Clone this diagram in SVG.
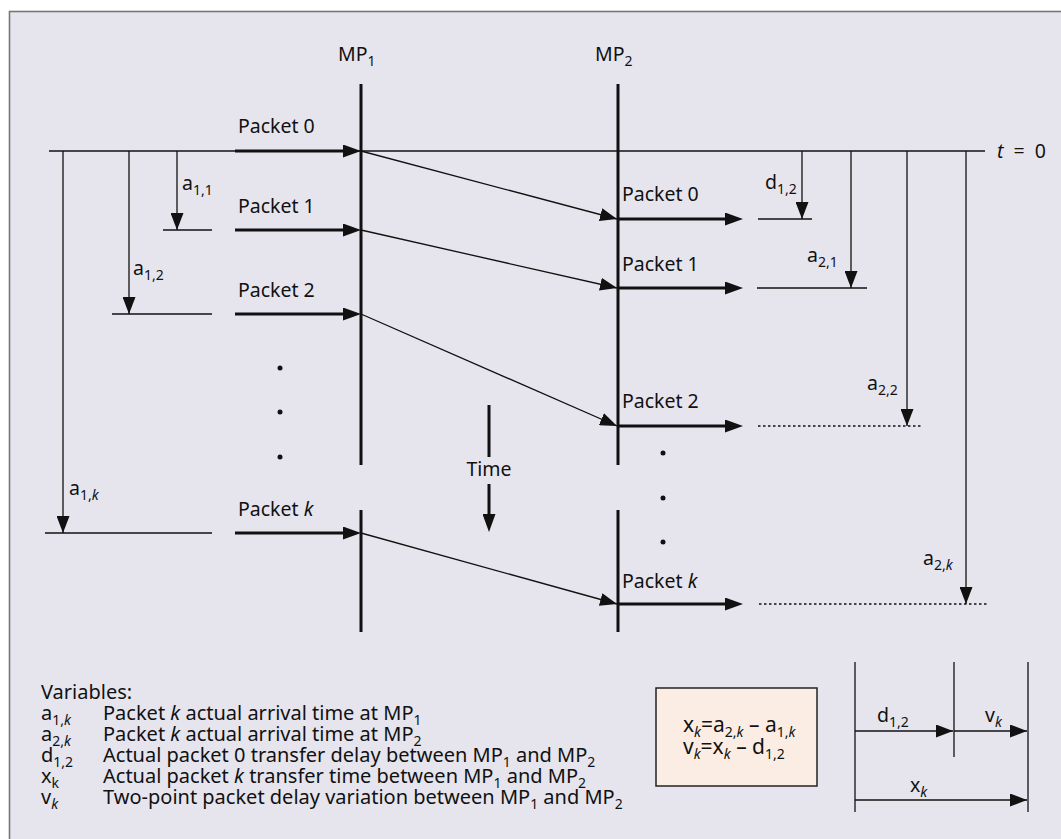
<svg xmlns="http://www.w3.org/2000/svg" width="1061" height="839" viewBox="0 0 1061 839">
<style>
.t{font-family:"Noto Sans","Liberation Sans",sans-serif;font-size:19.5px;fill:#111}
.lg{font-family:"Noto Sans","Liberation Sans",sans-serif;font-size:20px;fill:#111}
.fm{font-family:"Noto Sans","Liberation Sans",sans-serif;font-size:21px;fill:#111}
.sb{font-size:14px}
.i{font-style:italic}
.thin{stroke:#111;stroke-width:1.3;fill:none}
.thick{stroke:#111;stroke-width:3;fill:none}
.dot{stroke:#111;stroke-width:1.3;stroke-dasharray:2.5 2.5;fill:none}
</style>
<defs>
<marker id="ah" viewBox="0 0 17 13" refX="17" refY="6.5" markerWidth="17" markerHeight="13" markerUnits="userSpaceOnUse" orient="auto"><path d="M0,0 L17,6.5 L0,13 z" fill="#111"/></marker>
<marker id="ahT" viewBox="0 0 18 13" refX="10" refY="6.5" markerWidth="18" markerHeight="13" markerUnits="userSpaceOnUse" orient="auto"><path d="M0,0 L18,6.5 L0,13 z" fill="#111"/></marker>
</defs>
<rect x="0" y="0" width="1061" height="839" fill="#ffffff"/>
<rect x="9.5" y="11.5" width="1070" height="850" fill="#e6e5ee" stroke="#777" stroke-width="1.6"/>

<g id="connectors">
<line class="thin" x1="49" y1="151" x2="985" y2="151"/>
<line class="thick" x1="361" y1="84" x2="361" y2="465"/>
<line class="thick" x1="361" y1="510" x2="361" y2="632"/>
<line class="thick" x1="618" y1="84" x2="618" y2="465"/>
<line class="thick" x1="618" y1="510" x2="618" y2="632"/>
<line class="thick" x1="235" y1="151" x2="353" y2="151" marker-end="url(#ahT)"/>
<line class="thick" x1="235" y1="230" x2="353" y2="230" marker-end="url(#ahT)"/>
<line class="thick" x1="235" y1="314" x2="353" y2="314" marker-end="url(#ahT)"/>
<line class="thick" x1="235" y1="533" x2="353" y2="533" marker-end="url(#ahT)"/>
<line class="thin" x1="163" y1="230" x2="212" y2="230"/>
<line class="thin" x1="112" y1="314" x2="212" y2="314"/>
<line class="thin" x1="45" y1="533" x2="212" y2="533"/>
<line class="thin" x1="177" y1="151" x2="177" y2="230" marker-end="url(#ah)"/>
<line class="thin" x1="129" y1="151" x2="129" y2="314" marker-end="url(#ah)"/>
<line class="thin" x1="63" y1="151" x2="63" y2="533" marker-end="url(#ah)"/>
<line class="thin" x1="361" y1="151" x2="617" y2="219" marker-end="url(#ah)"/>
<line class="thin" x1="361" y1="230" x2="617" y2="288" marker-end="url(#ah)"/>
<line class="thin" x1="361" y1="314" x2="617" y2="426" marker-end="url(#ah)"/>
<line class="thin" x1="361" y1="533" x2="617" y2="604" marker-end="url(#ah)"/>
<line class="thick" x1="618" y1="219" x2="735" y2="219" marker-end="url(#ahT)"/>
<line class="thick" x1="618" y1="288" x2="735" y2="288" marker-end="url(#ahT)"/>
<line class="thick" x1="618" y1="426" x2="735" y2="426" marker-end="url(#ahT)"/>
<line class="thick" x1="618" y1="604" x2="735" y2="604" marker-end="url(#ahT)"/>
<line class="thin" x1="758" y1="219" x2="812" y2="219"/>
<line class="thin" x1="757" y1="288" x2="867" y2="288"/>
<line class="dot" x1="758" y1="426" x2="923" y2="426"/>
<line class="dot" x1="759" y1="604" x2="987" y2="604"/>
<line class="thin" x1="802" y1="151" x2="802" y2="219" marker-end="url(#ah)"/>
<line class="thin" x1="851" y1="151" x2="851" y2="288" marker-end="url(#ah)"/>
<line class="thin" x1="907" y1="151" x2="907" y2="426" marker-end="url(#ah)"/>
<line class="thin" x1="966" y1="151" x2="966" y2="604" marker-end="url(#ah)"/>
<line class="thick" x1="489" y1="405" x2="489" y2="457"/>
<line class="thick" x1="489" y1="484" x2="489" y2="524" marker-end="url(#ahT)"/>
<line class="thin" x1="855" y1="662" x2="855" y2="812"/>
<line class="thin" x1="954" y1="662" x2="954" y2="757"/>
<line class="thin" x1="1028" y1="662" x2="1028" y2="812"/>
<line class="thin" x1="855" y1="731" x2="953" y2="731" marker-end="url(#ah)"/>
<line class="thin" x1="954" y1="731" x2="1027" y2="731" marker-end="url(#ah)"/>
<line class="thin" x1="855" y1="800" x2="1027" y2="800" marker-end="url(#ah)"/>
</g>

<g id="dots" fill="#111">
<circle cx="280" cy="368" r="2.5"/><circle cx="280" cy="412" r="2.5"/><circle cx="280" cy="457" r="2.5"/>
<circle cx="663" cy="453" r="2.5"/><circle cx="663" cy="498" r="2.5"/><circle cx="663" cy="542" r="2.5"/>
</g>

<g id="mp1"><text class="t" x="338" y="61">MP<tspan class="sb" dy="5">1</tspan></text></g>
<g id="mp2"><text class="t" x="595" y="61">MP<tspan class="sb" dy="5">2</tspan></text></g>
<g id="t0"><text class="t" x="997" y="158" word-spacing="5"><tspan class="i">t</tspan> = 0</text></g>

<g id="left-packets">
<text class="t" x="238" y="133">Packet 0</text>
<text class="t" x="238" y="213">Packet 1</text>
<text class="t" x="238" y="297">Packet 2</text>
<text class="t" x="238" y="516">Packet <tspan class="i">k</tspan></text>
</g>
<g id="right-packets">
<text class="t" x="622" y="201">Packet 0</text>
<text class="t" x="622" y="271">Packet 1</text>
<text class="t" x="622" y="408">Packet 2</text>
<text class="t" x="622" y="588">Packet <tspan class="i">k</tspan></text>
</g>
<g id="arrival-labels">
<text class="t" x="182" y="190">a<tspan class="sb" dy="5">1,1</tspan></text>
<text class="t" x="133" y="275">a<tspan class="sb" dy="5">1,2</tspan></text>
<text class="t" x="69" y="495">a<tspan class="sb" dy="5">1,<tspan class="i">k</tspan></tspan></text>
<text class="t" x="765" y="189">d<tspan class="sb" dy="5">1,2</tspan></text>
<text class="t" x="807" y="262">a<tspan class="sb" dy="5">2,1</tspan></text>
<text class="t" x="867" y="390">a<tspan class="sb" dy="5">2,2</tspan></text>
<text class="t" x="923" y="565">a<tspan class="sb" dy="5">2,<tspan class="i">k</tspan></tspan></text>
</g>
<g id="time"><text class="t" x="489" y="476" text-anchor="middle">Time</text></g>

<g id="legend">
<text class="lg" x="41" y="699">Variables:</text>
<text class="lg" x="41" y="720">a<tspan class="sb" dy="5">1,<tspan class="i">k</tspan></tspan></text>
<text class="lg" x="103" y="720">Packet <tspan class="i">k</tspan> actual arrival time at MP<tspan class="sb" dy="5">1</tspan></text>
<text class="lg" x="41" y="741">a<tspan class="sb" dy="5">2,<tspan class="i">k</tspan></tspan></text>
<text class="lg" x="103" y="741">Packet <tspan class="i">k</tspan> actual arrival time at MP<tspan class="sb" dy="5">2</tspan></text>
<text class="lg" x="41" y="762">d<tspan class="sb" dy="5">1,2</tspan></text>
<text class="lg" x="103" y="762">Actual packet 0 transfer delay between MP<tspan class="sb" dy="5">1</tspan><tspan dy="-5"> and MP</tspan><tspan class="sb" dy="5">2</tspan></text>
<text class="lg" x="41" y="783">x<tspan class="sb" dy="5">k</tspan></text>
<text class="lg" x="103" y="783">Actual packet <tspan class="i">k</tspan> transfer time between MP<tspan class="sb" dy="5">1</tspan><tspan dy="-5"> and MP</tspan><tspan class="sb" dy="5">2</tspan></text>
<text class="lg" x="41" y="804">v<tspan class="sb i" dy="5">k</tspan></text>
<text class="lg" x="103" y="804">Two-point packet delay variation between MP<tspan class="sb" dy="5">1</tspan><tspan dy="-5"> and MP</tspan><tspan class="sb" dy="5">2</tspan></text>
</g>

<g id="formula">
<rect x="656" y="688" width="161" height="98" fill="#fbede4" stroke="#222" stroke-width="1.5"/>
<text class="fm" x="683" y="732">x<tspan class="sb i" dy="5">k</tspan><tspan dy="-5">=a</tspan><tspan class="sb" dy="5">2,<tspan class="i">k</tspan></tspan><tspan dy="-5"> – a</tspan><tspan class="sb" dy="5">1,<tspan class="i">k</tspan></tspan></text>
<text class="fm" x="683" y="754">v<tspan class="sb i" dy="5">k</tspan><tspan dy="-5">=x</tspan><tspan class="sb i" dy="5">k</tspan><tspan dy="-5"> – d</tspan><tspan class="sb" dy="5">1,2</tspan></text>
</g>

<g id="scale-labels">
<text class="t" x="877" y="722">d<tspan class="sb" dy="5">1,2</tspan></text>
<text class="t" x="985" y="722">v<tspan class="sb i" dy="5">k</tspan></text>
<text class="t" x="910" y="792">x<tspan class="sb i" dy="5">k</tspan></text>
</g>
</svg>
